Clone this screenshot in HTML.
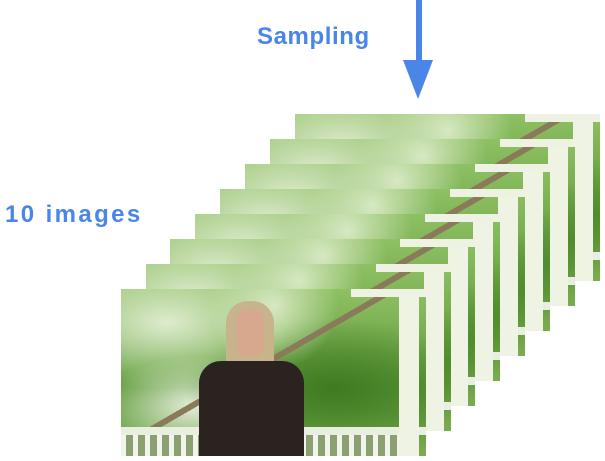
<!DOCTYPE html>
<html><head><style>
body{margin:0;width:605px;height:461px;background:#fff;position:relative;overflow:hidden;font-family:"Liberation Sans",sans-serif}
.t{position:absolute;color:#4a86e8;font-weight:bold;font-size:24px}
.f{position:absolute;width:305px;height:167px;overflow:hidden;
background:
linear-gradient(90deg,transparent 0,transparent 230px,#eef2e2 230px,#eef2e2 305px) 0 0/305px 8px no-repeat,
linear-gradient(90deg,transparent 278px,#eef3e4 278px,#eef3e4 298px,transparent 298px),
linear-gradient(180deg,transparent 138px,#e8eee0 138px,#e8eee0 146px,transparent 146px),
repeating-linear-gradient(90deg,#f0f4ea 0 5px,#8aa070 5px 12px) 0 146px/280px 21px no-repeat,
linear-gradient(150deg,transparent 45%,#8a7a5a 45%,#8a7a5a 47%,transparent 47%),
radial-gradient(ellipse at 15% 20%,#dfeccf,transparent 35%),
radial-gradient(ellipse at 50% 10%,#d5e8c0,transparent 30%),
radial-gradient(ellipse at 70% 60%,#3f7a22,transparent 50%),
radial-gradient(ellipse at 25% 70%,#e8f0e0,transparent 30%),
linear-gradient(180deg,#8fc064,#5d9a38 60%,#7aab50);}
</style></head><body>
<div class="t" style="left:257px;top:23px;letter-spacing:0.6px">Sampling</div>
<div class="t" style="left:5px;top:201px;letter-spacing:2.4px">10 images</div>
<div style="position:absolute;left:416px;top:0;width:6px;height:62px;background:#4a86e8"></div>
<div style="position:absolute;left:403px;top:60px;width:0;height:0;border-left:15px solid transparent;border-right:15px solid transparent;border-top:39px solid #4a86e8"></div>
<div class="f" style="left:295px;top:114px"></div>
<div class="f" style="left:270px;top:139px"></div>
<div class="f" style="left:245px;top:164px"></div>
<div class="f" style="left:220px;top:189px"></div>
<div class="f" style="left:195px;top:214px"></div>
<div class="f" style="left:170px;top:239px"></div>
<div class="f" style="left:146px;top:264px"></div>
<div class="f" style="left:121px;top:289px">
<div style="position:absolute;left:105px;top:12px;width:48px;height:82px;border-radius:22px 22px 4px 4px;background:#c8b48c"></div>
<div style="position:absolute;left:115px;top:20px;width:28px;height:48px;border-radius:12px;background:#d8a88e"></div>
<div style="position:absolute;left:78px;top:72px;width:105px;height:95px;border-radius:22px 22px 0 0;background:#2a2320"></div>
</div>
</body></html>
